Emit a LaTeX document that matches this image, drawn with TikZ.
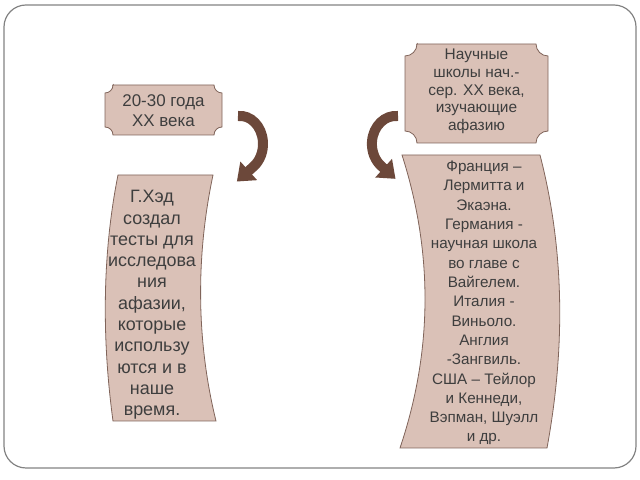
\documentclass[tikz,border=0pt]{standalone}
\usepackage{fontspec}
\setmainfont{Liberation Sans}
\usetikzlibrary{arrows.meta}
\definecolor{cardfill}{RGB}{218,193,183}
\definecolor{cardline}{RGB}{128,100,90}
\definecolor{arrowbrown}{RGB}{108,72,58}
\definecolor{ink}{RGB}{62,62,62}
\definecolor{framegray}{RGB}{130,130,130}
\tikzstyle{card}=[draw=cardline,fill=cardfill,line width=0.8bp]
\tikzstyle{cardtext}=[text=ink,align=center,inner sep=0pt]
\tikzstyle{turn}=[draw=arrowbrown,line width=10bp,-{Triangle[length=16bp,width=24bp]}]

\begin{document}
\begin{tikzpicture}[x=1bp,y=1bp]
  \useasboundingbox (0,0) rectangle (640,480);
  \draw[framegray,line width=1.2bp,rounded corners=22bp] (4,12) rectangle (636,475);

  % plaques
  \draw[card] (113,395) -- (214,395) arc[start angle=180,end angle=270,radius=8bp]
    -- (222,353) arc[start angle=90,end angle=180,radius=8bp]
    -- (113,345) arc[start angle=0,end angle=90,radius=8bp]
    -- (105,387) arc[start angle=270,end angle=360,radius=8bp] -- cycle;
  \draw[card] (417,436) -- (536,436) arc[start angle=180,end angle=270,radius=12bp]
    -- (548,349) arc[start angle=90,end angle=180,radius=12bp]
    -- (417,337) arc[start angle=0,end angle=90,radius=12bp]
    -- (405,424) arc[start angle=270,end angle=360,radius=12bp] -- cycle;
  % scrolls
  \draw[card] (118,305) -- (213,305) .. controls (196,225) and (196,140) .. (216,59)
    -- (113,59) .. controls (102,140) and (102,225) .. (118,305) -- cycle;
  \draw[card] (402,325) -- (540,325) .. controls (565,228) and (565,130) .. (547,32)
    -- (400,32) .. controls (433,130) and (433,228) .. (402,325) -- cycle;

  \node[cardtext,font=\fontsize{17}{20}\selectfont] (era) at (163.5,369) {20-30 года\\XX века};
  \node[cardtext,font=\fontsize{15.5}{17.8}\selectfont] (schools) at (476.5,388.5)
    {Научные\\школы нач.-\\сер. XX века,\\изучающие\\афазию};
  \node[cardtext,font=\fontsize{18}{21.4}\selectfont] (hed) at (152,175)
    {Г.Хэд\\создал\\тесты для\\исследова\\ния\\афазии,\\которые\\использу\\ются и в\\наше\\время.};
  \node[cardtext,font=\fontsize{15.3}{19.4}\selectfont] (countries) at (484,177)
    {Франция --\\Лермитта и\\Экаэна.\\Германия -\\научная школа\\во главе с\\Вайгелем.\\Италия -\\Виньоло.\\Англия\\-Зангвиль.\\США -- Тейлор\\и Кеннеди,\\Вэпман, Шуэлл\\и др.};

  % turning arrows
  \coordinate (tailA) at (238,364);
  \coordinate (tailB) at (398,364);
  \draw[turn] (tailA) arc[start angle=95,end angle=-55,x radius=23bp,y radius=28bp] -- ++(-138:22bp);
  \draw[turn] (tailB) arc[start angle=85,end angle=235,x radius=24bp,y radius=28bp] -- ++(-42:18bp);
\end{tikzpicture}
\end{document}
